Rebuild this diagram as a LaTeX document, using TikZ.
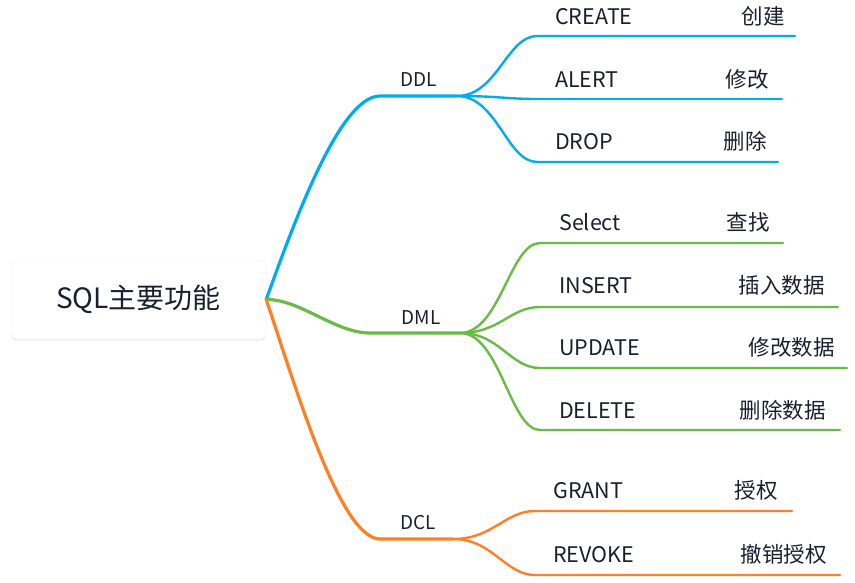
\documentclass[tikz,border=0pt]{standalone}
\usepackage{fontspec}
\setmainfont{Noto Sans CJK SC}
\usetikzlibrary{shadows}

\definecolor{ink}{RGB}{28,30,48}
\definecolor{ddlBlue}{RGB}{0,172,238}
\definecolor{dmlGreen}{RGB}{106,186,70}
\definecolor{dclOrange}{RGB}{255,127,36}

\begin{document}
\begin{tikzpicture}
    [
        x = 1pt,
        y = -1pt,
        topic/.style   = {draw=black!7, fill=white, rounded corners=5pt, minimum width=255pt, minimum height=79pt,
                          font=\fontsize{28}{33}\selectfont, text=ink,
                          drop shadow={shadow xshift=0pt, shadow yshift=-2pt, opacity=0.1}},
        group/.style   = {anchor=base, inner sep=0pt, font=\fontsize{19}{22}\selectfont, text=ink},
        keyword/.style = {anchor=base west, inner sep=0pt, font=\fontsize{21.5}{25}\selectfont, text=ink},
        meaning/.style = {anchor=base east, inner sep=0pt, font=\fontsize{21.5}{25}\selectfont, text=ink},
        branch/.style  = {line width=3.2pt, line cap=round},
        twig/.style    = {line width=2.4pt, line cap=round}
    ]
    \useasboundingbox (0,0) rectangle (855,582);

    \node [topic] at (138.5,299.5) (sqlRoot) {SQL主要功能};

    % main branches
    \coordinate (ddlFrom) at (380,96);
    \coordinate (ddlJoint) at (457,96);
    \coordinate (dmlFrom) at (370,333);
    \coordinate (dmlJoint) at (460,333);
    \coordinate (dclFrom) at (380,539);
    \coordinate (dclJoint) at (453,539);

    \draw [branch, ddlBlue] (sqlRoot.east) .. controls (295,220) and (340,96) .. (ddlFrom) -- (ddlJoint);
    \draw [branch, dmlGreen] (sqlRoot.east) .. controls (300,299) and (335,333) .. (dmlFrom) -- (dmlJoint);
    \draw [branch, dclOrange] (sqlRoot.east) .. controls (295,385) and (340,539) .. (dclFrom) -- (dclJoint);

    \node [group] at (419,86) (ddl) {DDL};
    \node [group] at (421,324) (dml) {DML};
    \node [group] at (418,529) (dcl) {DCL};

    % DDL leaves
    \coordinate (createFrom) at (537,36);   \coordinate (createTo) at (795,36);
    \coordinate (alertFrom) at (537,99);    \coordinate (alertTo) at (782,99);
    \coordinate (dropFrom) at (537,162);    \coordinate (dropTo) at (778,162);
    \draw [twig, ddlBlue] (ddlJoint) .. controls +(40,0) and +(-30,0) .. (createFrom) -- (createTo);
    \draw [twig, ddlBlue] (ddlJoint) .. controls +(40,0) and +(-30,0) .. (alertFrom) -- (alertTo);
    \draw [twig, ddlBlue] (ddlJoint) .. controls +(40,0) and +(-30,0) .. (dropFrom) -- (dropTo);
    \node [keyword] at (555,24) (create) {CREATE};
    \node [meaning] at (785,24) (createNote) {创建};
    \node [keyword] at (555,87) (alert) {ALERT};
    \node [meaning] at (769,87) (alertNote) {修改};
    \node [keyword] at (555,149) (drop) {DROP};
    \node [meaning] at (767,149) (dropNote) {删除};

    % DML leaves
    \coordinate (selectFrom) at (540,243);  \coordinate (selectTo) at (783,243);
    \coordinate (insertFrom) at (540,307);  \coordinate (insertTo) at (838,307);
    \coordinate (updateFrom) at (540,368);  \coordinate (updateTo) at (847,368);
    \coordinate (deleteFrom) at (540,430);  \coordinate (deleteTo) at (840,430);
    \draw [twig, dmlGreen] (dmlJoint) .. controls +(40,0) and +(-30,0) .. (selectFrom) -- (selectTo);
    \draw [twig, dmlGreen] (dmlJoint) .. controls +(40,0) and +(-30,0) .. (insertFrom) -- (insertTo);
    \draw [twig, dmlGreen] (dmlJoint) .. controls +(40,0) and +(-30,0) .. (updateFrom) -- (updateTo);
    \draw [twig, dmlGreen] (dmlJoint) .. controls +(40,0) and +(-30,0) .. (deleteFrom) -- (deleteTo);
    \node [keyword] at (559,230) (select) {Select};
    \node [meaning] at (770,230) (selectNote) {查找};
    \node [keyword] at (559,293) (insert) {INSERT};
    \node [meaning] at (825,293) (insertNote) {插入数据};
    \node [keyword] at (559,355) (update) {UPDATE};
    \node [meaning] at (835,355) (updateNote) {修改数据};
    \node [keyword] at (559,418) (delete) {DELETE};
    \node [meaning] at (826,418) (deleteNote) {删除数据};

    % DCL leaves
    \coordinate (grantFrom) at (535,511);   \coordinate (grantTo) at (792,511);
    \coordinate (revokeFrom) at (535,575);  \coordinate (revokeTo) at (840,575);
    \draw [twig, dclOrange] (dclJoint) .. controls +(40,0) and +(-30,0) .. (grantFrom) -- (grantTo);
    \draw [twig, dclOrange] (dclJoint) .. controls +(40,0) and +(-30,0) .. (revokeFrom) -- (revokeTo);
    \node [keyword] at (553,498) (grant) {GRANT};
    \node [meaning] at (778,498) (grantNote) {授权};
    \node [keyword] at (553,562) (revoke) {REVOKE};
    \node [meaning] at (827,562) (revokeNote) {撤销授权};
\end{tikzpicture}
\end{document}
